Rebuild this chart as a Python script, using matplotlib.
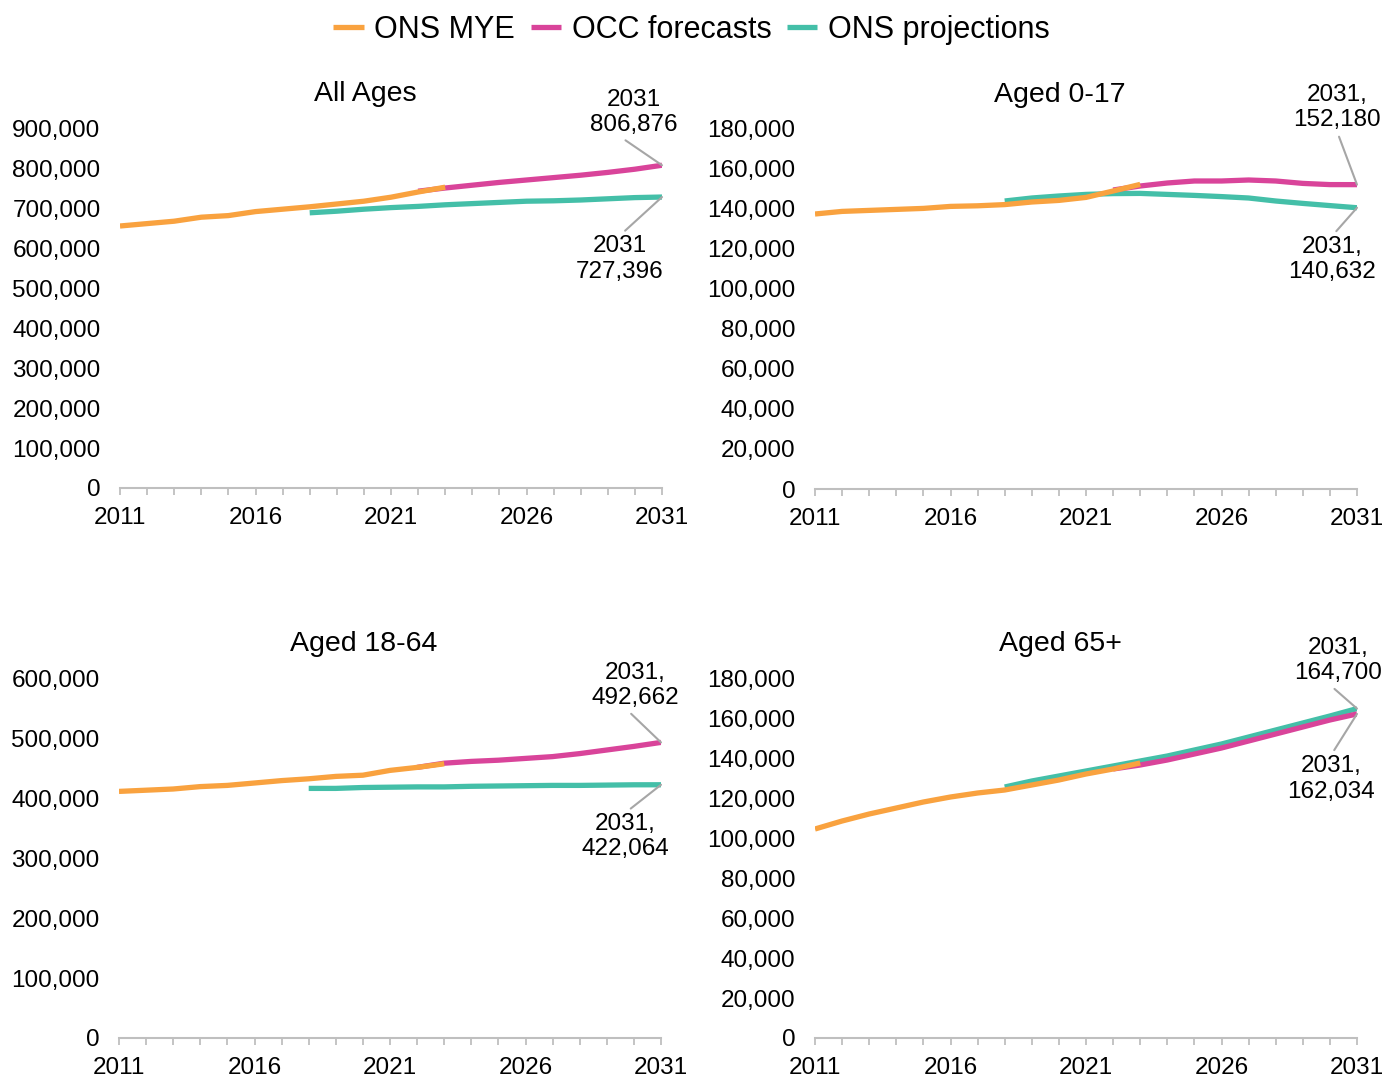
import matplotlib
matplotlib.use("Agg")
import matplotlib.pyplot as plt
from matplotlib.ticker import FuncFormatter, MultipleLocator

plt.rcParams['font.family'] = ['Liberation Sans', 'DejaVu Sans']

# years
mye_years = list(range(2011, 2024))
occ_years = list(range(2022, 2032))
proj_years = list(range(2018, 2032))

# All Ages
all_mye = [655000, 661000, 667000, 677000, 681000, 691000, 697000, 703000, 710000, 717000, 727000, 740000, 752000]
all_occ = [742000, 750000, 757000, 764000, 770000, 776000, 782000, 789000, 797000, 806876]
all_proj = [688000, 692000, 697000, 701000, 704000, 708000, 711000, 714000, 717000, 718000, 720000, 723000, 726000, 727396]

# Aged 0-17
kid_mye = [137500, 138800, 139300, 139800, 140300, 141300, 141600, 142200, 143500, 144300, 145800, 149000, 152300]
kid_occ = [149500, 151500, 153000, 154000, 154000, 154500, 154000, 152800, 152200, 152180]
kid_proj = [144000, 145500, 146500, 147300, 147700, 147800, 147300, 146800, 146200, 145500, 144000, 142800, 141700, 140632]

# Aged 18-64
adult_mye = [411000, 413000, 415000, 419000, 421000, 425000, 429000, 432000, 436000, 438000, 446000, 451000, 457000]
adult_occ = [451000, 458000, 461000, 463000, 466000, 469000, 474000, 480000, 486000, 492662]
adult_proj = [416000, 416000, 417500, 418000, 418500, 418500, 419500, 420000, 420500, 421000, 421000, 421500, 422000, 422064]

# Aged 65+
old_mye = [104500, 108500, 112000, 115000, 118000, 120500, 122500, 124000, 126500, 129000, 132000, 134500, 137500]
old_occ = [134500, 136500, 139000, 142000, 145000, 148500, 152000, 155500, 159000, 162034]
old_proj = [125500, 128500, 131000, 133500, 136000, 138500, 141000, 144000, 147000, 150500, 154000, 157500, 161000, 164700]

c_mye = '#F9A23F'
c_occ = '#D9449A'
c_proj = '#44BFA8'
c_grey = '#A6A6A6'

fig = plt.figure(figsize=(13.97, 10.77), dpi=100)

W, H = 1397.0, 1077.0
# (left px, bottom px, top px)
boxes = [(120, 488, 128), (815, 489, 129), (119, 1038, 678), (815, 1038, 678)]

panels = [
    ("All Ages", all_mye, all_occ, all_proj, 900000, 100000,
     [("2031\n806,876", 'occ', (-28, 53), (0.33, 0)), ("2031\n727,396", 'proj', (-42, -62), (0.5, 1))]),
    ("Aged 0-17", kid_mye, kid_occ, kid_proj, 180000, 20000,
     [("2031,\n152,180", 'occ', (-20, 77), (0.5, 0)), ("2031,\n140,632", 'proj', (-25, -52), (0.5, 1))]),
    ("Aged 18-64", adult_mye, adult_occ, adult_proj, 600000, 100000,
     [("2031,\n492,662", 'occ', (-26, 57), (0.4, 0)), ("2031,\n422,064", 'proj', (-36, -52), (0.5, 1))]),
    ("Aged 65+", old_mye, old_occ, old_proj, 180000, 20000,
     [("2031,\n164,700", 'proj', (-19, 48), (0.4, 0)), ("2031,\n162,034", 'occ', (-26, -65), (0.5, 1))]),
]

fmt = FuncFormatter(lambda v, p: "{:,.0f}".format(v))

for (left, bot, top), (title, mye, occ, proj, ymax, step, notes) in zip(boxes, panels):
    ax = fig.add_axes([left / W, 1 - bot / H, 542 / W, (bot - top) / H])
    l1, = ax.plot(mye_years, mye, color=c_mye, lw=3.8, solid_capstyle='butt', zorder=3, label='ONS MYE')
    l2, = ax.plot(occ_years, occ, color=c_occ, lw=3.8, solid_capstyle='butt', zorder=2, label='OCC forecasts')
    l3, = ax.plot(proj_years, proj, color=c_proj, lw=3.8, solid_capstyle='butt', zorder=1, label='ONS projections')
    ax.set_xlim(2011, 2031)
    ax.set_ylim(0, ymax)
    ax.yaxis.set_major_locator(MultipleLocator(step))
    ax.yaxis.set_major_formatter(fmt)
    ax.set_xticks([2011, 2016, 2021, 2026, 2031])
    ax.xaxis.set_minor_locator(MultipleLocator(1))
    for s in ['top', 'right', 'left']:
        ax.spines[s].set_visible(False)
    ax.spines['bottom'].set_color('#BFBFBF')
    ax.spines['bottom'].set_linewidth(1.5)
    ax.tick_params(axis='y', length=0, pad=14, labelsize=17.5)
    ax.tick_params(axis='x', which='both', length=5, color='#BFBFBF', width=1.3, labelsize=17.5, pad=9)
    ax.text(0.452, 1 + 34 / (bot - top), title, transform=ax.transAxes,
            ha='center', va='center', fontsize=20.5)
    for txt, which, off, rp in notes:
        yv = occ[-1] if which == 'occ' else proj[-1]
        ax.annotate(txt, xy=(2031, yv), xytext=off, textcoords='offset pixels',
                    ha='center', va='center', fontsize=17.5, linespacing=1.2,
                    annotation_clip=False,
                    arrowprops=dict(arrowstyle='-', color=c_grey, lw=1.5,
                                    shrinkA=2, shrinkB=0, relpos=rp))

fig.legend(handles=[l1, l2, l3], loc='upper center', bbox_to_anchor=(0.495, 1.012),
           ncol=3, frameon=False, fontsize=22, handlelength=1.0, handletextpad=0.35,
           columnspacing=0.5)

fig.savefig('out.png', dpi=100)
